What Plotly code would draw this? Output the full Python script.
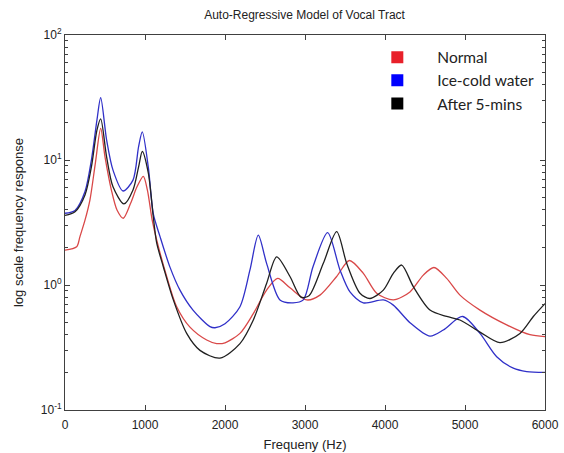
import plotly.graph_objects as go

# ---- data ----
normal_x = [0, 146, 187, 250, 312, 380, 446, 500, 580, 650, 729, 820, 900, 979, 1030, 1090, 1146, 1271, 1396, 1562, 1771, 1896, 2000, 2187, 2354, 2520, 2658, 2812, 3021, 3187, 3396, 3554, 3729, 3896, 4104, 4312, 4479, 4612, 4771, 4937, 5187, 5521, 5812, 6000]
normal_y = [1.9, 2.02, 2.44, 3.3, 4.8, 9.5, 17.9, 10.6, 5.75, 3.98, 3.42, 4.5, 6.1, 7.4, 5.75, 3.3, 2.29, 1.17, 0.67, 0.46, 0.363, 0.34, 0.345, 0.41, 0.59, 0.91, 1.13, 0.95, 0.76, 0.83, 1.17, 1.57, 1.24, 0.86, 0.76, 0.88, 1.20, 1.38, 1.13, 0.83, 0.63, 0.48, 0.40, 0.386]

ice_x = [0, 125, 250, 330, 400, 446, 520, 600, 725, 850, 920, 966, 1041, 1104, 1187, 1312, 1437, 1600, 1812, 1875, 2000, 2187, 2312, 2416, 2520, 2687, 2850, 2979, 3100, 3283, 3437, 3562, 3729, 3979, 4104, 4312, 4562, 4729, 4970, 5187, 5396, 5604, 5771, 6000]
ice_y = [3.75, 3.95, 5.6, 10, 21, 31.5, 14.5, 8.3, 5.65, 6.9, 12.8, 16.8, 8.8, 3.7, 2.45, 1.39, 0.91, 0.63, 0.465, 0.455, 0.49, 0.67, 1.32, 2.51, 1.49, 0.76, 0.72, 0.76, 1.4, 2.62, 1.32, 0.88, 0.72, 0.76, 0.69, 0.50, 0.39, 0.436, 0.56, 0.41, 0.267, 0.216, 0.203, 0.20]

after_x = [0, 125, 250, 330, 400, 446, 520, 600, 737, 850, 920, 966, 1041, 1104, 1146, 1229, 1354, 1521, 1687, 1937, 2187, 2354, 2520, 2646, 2812, 2950, 3050, 3229, 3396, 3521, 3687, 3812, 3979, 4104, 4208, 4354, 4562, 4771, 4937, 5187, 5437, 5687, 5854, 6000]
after_y = [3.6, 3.85, 5.25, 8.8, 17.4, 21.3, 10.6, 6.1, 4.45, 5.75, 8.8, 11.7, 7.9, 3.5, 2.17, 1.40, 0.76, 0.41, 0.30, 0.26, 0.34, 0.525, 1.03, 1.68, 1.17, 0.80, 0.82, 1.49, 2.67, 1.49, 0.86, 0.78, 0.91, 1.24, 1.445, 0.97, 0.63, 0.56, 0.525, 0.42, 0.346, 0.41, 0.56, 0.71]

series_names = ["Normal", "Ice-cold water", "After 5-mins"]
line_colors = ["#d94848", "#3030c8", "#202020"]
legend_colors = ["#e8202a", "#0000ff", "#000000"]

x_ticks = [0, 1000, 2000, 3000, 4000, 5000, 6000]
y_ticks = [0.1, 1, 10, 100]
y_ticktext = ["10<sup>-1</sup>", "10<sup>0</sup>", "10<sup>1</sup>", "10<sup>2</sup>"]
y_minor = [m * d for d in (0.1, 1, 10) for m in range(2, 10)]

fig = go.Figure()
for xs, ys, c in zip([normal_x, ice_x, after_x], [normal_y, ice_y, after_y], line_colors):
    fig.add_trace(go.Scatter(x=xs, y=ys, mode="lines", showlegend=False,
                             line=dict(color=c, width=1.3, shape="spline", smoothing=0.8)))
for name, c in zip(series_names, legend_colors):
    fig.add_trace(go.Scatter(x=[None], y=[None], mode="markers", name=name,
                             marker=dict(symbol="square", size=12, color=c)))

axis_color = "#404040"
fig.update_layout(
    width=564, height=453,
    margin=dict(l=65, r=19, t=35, b=43, autoexpand=False),
    paper_bgcolor="white", plot_bgcolor="white",
    title=dict(text="Auto-Regressive Model of Vocal Tract", x=0.54, xanchor="center",
               y=0.967, yanchor="middle",
               font=dict(family="Liberation Sans, Arial", size=12, color="#222")),
    font=dict(family="Liberation Sans, Arial", size=12, color="#222"),
    legend=dict(x=0.609, y=0.985, xanchor="left", yanchor="top",
                bgcolor="rgba(0,0,0,0)", borderwidth=0, itemwidth=70,
                font=dict(family="Lato", size=15.5, color="#222"),
                tracegroupgap=0),
    xaxis=dict(range=[0, 6000], tickvals=x_ticks, ticks="inside", ticklen=5,
               showline=True, linecolor=axis_color, linewidth=1, mirror="ticks",
               tickcolor=axis_color, showgrid=False, zeroline=False, automargin=False,
               ticklabelstandoff=4,
               title=dict(text="Frequeny (Hz)", font=dict(size=13), standoff=8),
               tickfont=dict(size=12)),
    yaxis=dict(type="log", range=[-1, 2], tickvals=y_ticks, ticktext=y_ticktext,
               ticks="inside", ticklen=5, showline=True, linecolor=axis_color,
               linewidth=1, mirror="ticks", tickcolor=axis_color, showgrid=False,
               zeroline=False, automargin=False,
               minor=dict(tickvals=y_minor, ticks="inside", ticklen=3,
                          tickcolor=axis_color, showgrid=False),
               title=dict(text="log scale frequency response", font=dict(size=13), standoff=14),
               tickfont=dict(size=12)),
)

fig.write_html("out.html")
